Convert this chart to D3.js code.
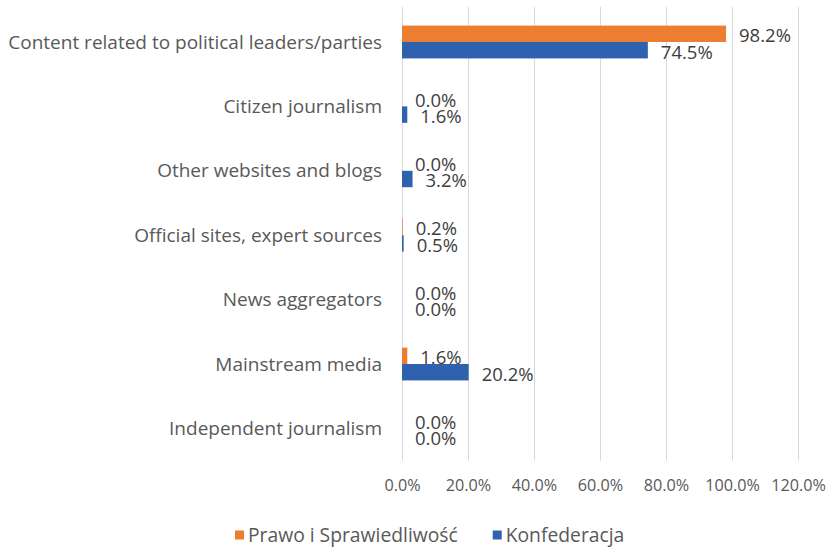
<!DOCTYPE html>
<html>
<head>
<meta charset="utf-8">
<script src="https://cdn.jsdelivr.net/npm/d3@7"></script>
<style>
  body { margin: 0; background: #fff; }
  svg { display: block; font-family: "Open Sans", sans-serif; }
</style>
</head>
<body>
<svg id="chart" width="834" height="548"></svg>
<script>
const categories = [
  "Content related to political leaders/parties",
  "Citizen journalism",
  "Other websites and blogs",
  "Official sites, expert sources",
  "News aggregators",
  "Mainstream media",
  "Independent journalism"
];
const seriesNames = ["Prawo i Sprawiedliwość", "Konfederacja"];
const pisValues = [98.2, 0.0, 0.0, 0.2, 0.0, 1.6, 0.0];
const konfValues = [74.5, 1.6, 3.2, 0.5, 0.0, 20.2, 0.0];
const xTicks = [0, 20, 40, 60, 80, 100, 120];
const colours = ["#ed7d31", "#2e62ae"];

const textColour = "#595959";
const svg = d3.select("#chart");

const plot = { left: 402, right: 798, top: 9.8, bottom: 460.6 };

const x = d3.scaleLinear().domain([0, 120]).range([plot.left, plot.right]);
const y = d3.scaleBand()
  .domain(categories)
  .range([plot.top, plot.bottom])
  .paddingInner(0.49)
  .paddingOuter(0.245);
const ySub = d3.scaleBand().domain(seriesNames).range([0, y.bandwidth()]);

// rows: one per category with both values
const rows = categories.map((c, i) => ({
  cat: c,
  vals: [
    { s: seriesNames[0], v: pisValues[i] },
    { s: seriesNames[1], v: konfValues[i] }
  ]
}));

// gridlines
svg.append("g")
  .attr("transform", `translate(0,${plot.bottom})`)
  .call(d3.axisBottom(x).tickValues(xTicks).tickSize(-(plot.bottom - plot.top + 3)).tickFormat(""))
  .call(g => g.select(".domain").remove())
  .call(g => g.selectAll("line").attr("stroke", "#d9d9d9").attr("stroke-width", 1));

// x tick labels
svg.append("g")
  .attr("transform", `translate(0,${plot.bottom})`)
  .call(d3.axisBottom(x).tickValues(xTicks).tickSize(0).tickPadding(19)
    .tickFormat(d => d.toFixed(1) + "%"))
  .call(g => g.select(".domain").remove())
  .call(g => g.selectAll("text")
    .attr("fill", textColour)
    .style("font-size", "16.2px")
    .style("font-family", "Open Sans"));

// category labels
svg.append("g")
  .attr("transform", `translate(${plot.left},0)`)
  .call(d3.axisLeft(y).tickSize(0).tickPadding(20))
  .call(g => g.select(".domain").remove())
  .call(g => g.selectAll("text")
    .attr("fill", textColour)
    .attr("dy", "0.35em")
    .style("font-size", "19px")
    .style("font-family", "Open Sans"));

const groups = svg.selectAll(".group")
  .data(rows)
  .enter()
  .append("g")
  .attr("class", "group")
  .attr("transform", d => `translate(0,${y(d.cat)})`);

groups.selectAll("rect")
  .data(d => d.vals)
  .enter()
  .append("rect")
  .attr("x", x(0))
  .attr("y", d => ySub(d.s))
  .attr("width", d => x(d.v) - x(0))
  .attr("height", ySub.bandwidth())
  .attr("fill", (d, i) => colours[i]);

groups.selectAll(".val")
  .data(d => d.vals)
  .enter()
  .append("text")
  .attr("class", "val")
  .attr("x", d => x(d.v) + 13)
  .attr("y", d => ySub(d.s) + ySub.bandwidth() / 2 + 2)
  .attr("dy", "0.35em")
  .attr("fill", "#404040")
  .style("font-size", "18.5px")
  .text(d => d.v.toFixed(1) + "%");

// legend
const legend = svg.append("g").attr("transform", "translate(235,535)");
let lx = 0;
seriesNames.forEach((name, i) => {
  legend.append("rect")
    .attr("x", lx)
    .attr("y", -4.5)
    .attr("width", 9)
    .attr("height", 9)
    .attr("fill", colours[i]);
  const t = legend.append("text")
    .attr("x", lx + 13)
    .attr("y", 0)
    .attr("dy", "0.35em")
    .attr("fill", textColour)
    .style("font-size", "19.3px")
    .text(name);
  lx += 13 + t.node().getComputedTextLength() + 35;
});
</script>
</body>
</html>
